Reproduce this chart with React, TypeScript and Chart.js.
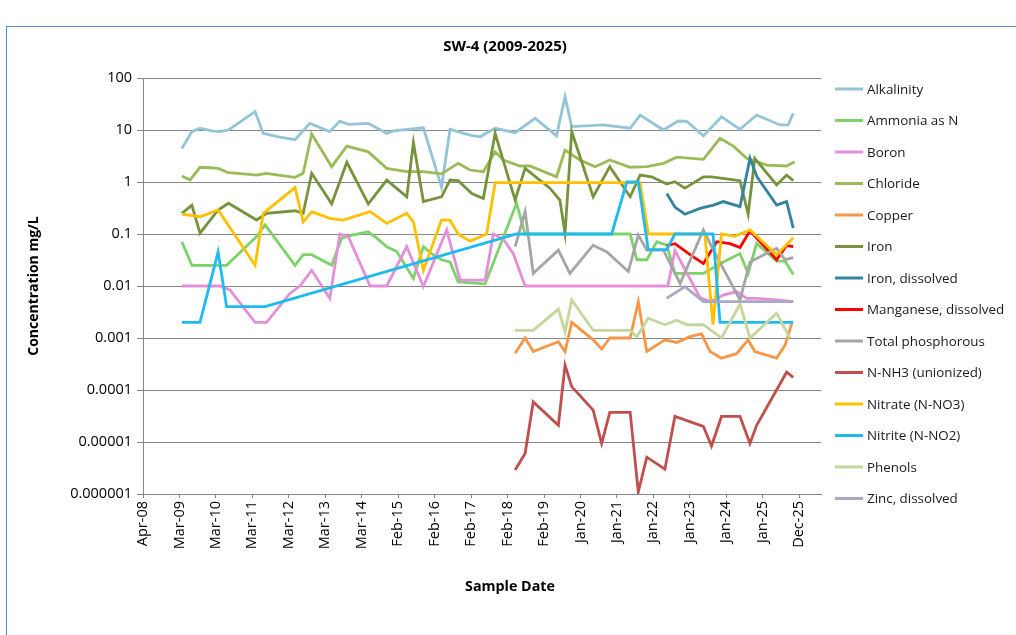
import React, { useEffect, useRef } from "react";
import { Chart, registerables } from "chart.js";

Chart.register(...registerables);

// ---- Text ----
const TITLE = "SW-4 (2009-2025)";
const Y_TITLE = "Concentration mg/L";
const X_TITLE = "Sample Date";

// ---- Axis ticks ----
const Y_TICKS = [0.000001, 0.00001, 0.0001, 0.001, 0.01, 0.1, 1, 10, 100];
const Y_TICK_LABELS = ["0.000001", "0.00001", "0.0001", "0.001", "0.01", "0.1", "1", "10", "100"];
const X_TICK_LABELS = [
  "Apr-08", "Mar-09", "Mar-10", "Mar-11", "Mar-12", "Mar-13", "Mar-14", "Feb-15", "Feb-16",
  "Feb-17", "Feb-18", "Feb-19", "Jan-20", "Jan-21", "Jan-22", "Jan-23", "Jan-24", "Jan-25", "Dec-25",
];
// axis starts 1 Apr 2008 (decimal year), major unit 360 days
const X_START = 2008.249;
const X_STEP = 360 / 365.25;
const X_END = 2026.58;

// ---- Series (sample date as decimal year, concentration mg/L) ----
const alkalinityDates = [2009.30, 2009.57, 2009.79, 2010.11, 2010.33, 2010.56, 2011.28, 2011.50, 2011.91, 2012.36, 2012.76, 2013.30, 2013.57, 2013.80, 2014.34, 2014.84, 2015.02, 2015.83, 2016.32, 2016.55, 2017.09, 2017.36, 2017.77, 2018.31, 2018.85, 2019.43, 2019.66, 2019.84, 2020.69, 2021.42, 2021.69, 2022.32, 2022.72, 2022.95, 2023.40, 2023.89, 2024.39, 2024.84, 2025.47, 2025.69, 2025.83];
const alkalinityValues = [4.4, 9.3, 10.8, 9.6, 9.3, 10, 22.5, 8.6, 7.4, 6.5, 13.4, 9.3, 14.8, 12.8, 13.4, 8.6, 9.6, 11, 0.8, 10.3, 8.0, 7.4, 10.8, 8.9, 16.8, 7.7, 43.7, 11.6, 12.5, 10.8, 19.4, 10, 14.9, 14.7, 7.7, 18, 10.3, 19.4, 12.5, 12.5, 20.9];

const ammoniaDates = [2009.30, 2009.57, 2009.79, 2010.51, 2011.32, 2011.55, 2012.36, 2012.58, 2012.81, 2013.35, 2013.62, 2013.93, 2014.34, 2014.57, 2014.84, 2015.11, 2015.56, 2015.83, 2016.05, 2016.32, 2016.55, 2016.77, 2017.50, 2018.35, 2018.58, 2020.87, 2021.42, 2021.60, 2021.87, 2022.14, 2022.41, 2022.63, 2023.40, 2023.94, 2024.39, 2024.61, 2024.84, 2025.38, 2025.61, 2025.83];
const ammoniaValues = [0.071, 0.025, 0.025, 0.025, 0.089, 0.15, 0.025, 0.04, 0.04, 0.025, 0.083, 0.096, 0.11, 0.083, 0.057, 0.046, 0.014, 0.057, 0.042, 0.032, 0.029, 0.012, 0.011, 0.39, 0.1, 0.1, 0.1, 0.032, 0.032, 0.071, 0.061, 0.0175, 0.0175, 0.029, 0.042, 0.0175, 0.066, 0.03, 0.03, 0.0167];

const boronDates = [2009.30, 2009.79, 2010.33, 2010.60, 2011.28, 2011.59, 2012.22, 2012.49, 2012.81, 2013.30, 2013.57, 2013.80, 2014.39, 2014.84, 2015.38, 2015.83, 2016.46, 2016.82, 2017.50, 2017.72, 2017.99, 2018.26, 2018.58, 2022.44, 2022.63, 2023.31, 2023.58, 2023.94, 2024.30, 2024.57, 2024.84, 2025.38, 2025.83];
const boronValues = [0.01, 0.01, 0.01, 0.0084, 0.002, 0.002, 0.0072, 0.01, 0.02, 0.0058, 0.1, 0.089, 0.01, 0.01, 0.057, 0.0097, 0.12, 0.013, 0.013, 0.1, 0.08, 0.042, 0.01, 0.01, 0.048, 0.006, 0.005, 0.0067, 0.0078, 0.0058, 0.0058, 0.0054, 0.005];

const chlorideDates = [2009.30, 2009.52, 2009.79, 2010.06, 2010.28, 2010.56, 2010.96, 2011.32, 2011.59, 2011.91, 2012.36, 2012.58, 2012.81, 2013.35, 2013.76, 2014.34, 2014.84, 2015.38, 2015.83, 2016.32, 2016.77, 2017.09, 2017.45, 2017.77, 2017.99, 2018.44, 2018.71, 2019.43, 2019.66, 2020.06, 2020.47, 2020.87, 2021.42, 2021.87, 2022.32, 2022.68, 2023.40, 2023.85, 2024.21, 2024.57, 2025.11, 2025.65, 2025.87];
const chlorideValues = [1.3, 1.09, 1.92, 1.88, 1.83, 1.51, 1.43, 1.36, 1.47, 1.36, 1.23, 1.47, 8.4, 1.97, 4.9, 3.8, 1.83, 1.58, 1.58, 1.43, 2.29, 1.7, 1.58, 3.8, 2.65, 2.03, 2.03, 1.26, 4.1, 2.65, 1.97, 2.65, 1.92, 1.97, 2.29, 3.0, 2.73, 6.9, 4.9, 2.85, 2.12, 2.03, 2.45];

const copperDates = [2018.31, 2018.58, 2018.80, 2019.48, 2019.66, 2019.84, 2020.42, 2020.65, 2020.87, 2021.42, 2021.64, 2021.87, 2022.36, 2022.68, 2023.04, 2023.35, 2023.58, 2023.89, 2024.30, 2024.61, 2024.79, 2025.38, 2025.61, 2025.79];
const copperValues = [0.00051, 0.001, 0.00055, 0.00085, 0.00055, 0.002, 0.00092, 0.00061, 0.001, 0.001, 0.005, 0.00055, 0.00092, 0.00082, 0.00106, 0.0012, 0.00055, 0.00041, 0.0005, 0.00092, 0.00055, 0.00041, 0.00073, 0.0019];

const ironDates = [2009.30, 2009.57, 2009.79, 2010.28, 2010.56, 2011.32, 2011.59, 2012.36, 2012.58, 2012.81, 2013.35, 2013.76, 2014.34, 2014.84, 2015.38, 2015.56, 2015.83, 2016.32, 2016.55, 2016.77, 2017.14, 2017.45, 2017.77, 2018.31, 2018.58, 2019.25, 2019.52, 2019.66, 2019.84, 2020.42, 2020.87, 2021.42, 2021.69, 2022.00, 2022.41, 2022.63, 2022.90, 2023.40, 2023.62, 2024.39, 2024.61, 2024.79, 2025.38, 2025.65, 2025.83];
const ironValues = [0.25, 0.36, 0.104, 0.29, 0.39, 0.186, 0.25, 0.28, 0.25, 1.47, 0.38, 2.39, 0.38, 1.09, 0.52, 5.7, 0.42, 0.52, 1.09, 1.06, 0.6, 0.48, 8.6, 0.45, 1.83, 0.76, 0.45, 0.103, 9.3, 0.52, 1.97, 0.52, 1.36, 1.26, 0.91, 1.01, 0.76, 1.26, 1.26, 1.06, 0.24, 2.85, 0.88, 1.36, 1.06];

const ironDissolvedDates = [2022.41, 2022.63, 2022.90, 2023.31, 2023.67, 2023.94, 2024.39, 2024.66, 2024.85, 2025.38, 2025.65, 2025.83];
const ironDissolvedValues = [0.6, 0.33, 0.24, 0.31, 0.36, 0.42, 0.335, 2.85, 1.26, 0.36, 0.42, 0.13];

const manganeseDates = [2022.41, 2022.63, 2023.04, 2023.40, 2023.76, 2024.12, 2024.39, 2024.66, 2025.38, 2025.65, 2025.83];
const manganeseValues = [0.06, 0.065, 0.04, 0.027, 0.071, 0.065, 0.055, 0.115, 0.032, 0.06, 0.057];

const phosphorusDates = [2018.31, 2018.58, 2018.80, 2019.48, 2019.79, 2020.42, 2020.79, 2021.37, 2021.64, 2021.87, 2022.32, 2022.77, 2023.40, 2023.67, 2024.39, 2024.66, 2025.38, 2025.61, 2025.83];
const phosphorusValues = [0.057, 0.27, 0.0175, 0.049, 0.0175, 0.061, 0.045, 0.019, 0.096, 0.049, 0.049, 0.0112, 0.12, 0.049, 0.0054, 0.029, 0.053, 0.032, 0.035];

const nh3Dates = [2018.31, 2018.58, 2018.80, 2019.48, 2019.66, 2019.84, 2020.42, 2020.65, 2020.87, 2021.42, 2021.64, 2021.87, 2022.36, 2022.63, 2023.40, 2023.62, 2023.89, 2024.39, 2024.66, 2024.84, 2025.65, 2025.83];
const nh3Values = [0.0000029, 0.000006, 0.000059, 0.000021, 0.0003, 0.000116, 0.000041, 0.0000094, 0.000037, 0.000037, 0.0000011, 0.0000051, 0.000003, 0.000031, 0.00002, 0.0000084, 0.000031, 0.000031, 0.0000094, 0.000021, 0.00022, 0.000175];

const nitrateDates = [2009.30, 2009.79, 2010.28, 2011.28, 2011.50, 2012.36, 2012.58, 2012.81, 2013.30, 2013.66, 2014.39, 2014.84, 2015.38, 2015.56, 2015.83, 2016.32, 2016.55, 2016.77, 2017.09, 2017.54, 2017.77, 2021.69, 2021.91, 2022.59, 2023.44, 2023.66, 2023.89, 2024.25, 2024.66, 2025.01, 2025.38, 2025.83];
const nitrateValues = [0.24, 0.215, 0.29, 0.025, 0.25, 0.78, 0.17, 0.27, 0.2, 0.185, 0.27, 0.16, 0.25, 0.17, 0.02, 0.185, 0.185, 0.1, 0.073, 0.1, 0.97, 0.97, 0.1, 0.1, 0.1, 0.0018, 0.1, 0.09, 0.12, 0.07, 0.04, 0.085];

const nitriteDates = [2009.30, 2009.79, 2010.28, 2010.51, 2011.55, 2018.35, 2020.92, 2021.33, 2021.64, 2021.91, 2022.41, 2022.63, 2023.66, 2023.85, 2025.83];
const nitriteValues = [0.002, 0.002, 0.045, 0.004, 0.004, 0.1, 0.1, 1, 1, 0.05, 0.05, 0.1, 0.1, 0.002, 0.002];

const phenolsDates = [2018.31, 2018.80, 2019.48, 2019.66, 2019.84, 2020.42, 2021.42, 2021.60, 2021.91, 2022.36, 2022.68, 2022.95, 2023.40, 2023.89, 2024.39, 2024.66, 2025.38, 2025.74];
const phenolsValues = [0.0014, 0.0014, 0.0036, 0.0013, 0.0054, 0.0014, 0.0014, 0.00106, 0.0024, 0.0018, 0.0022, 0.0018, 0.0018, 0.001, 0.0045, 0.001, 0.003, 0.001];

const zincDates = [2022.41, 2022.90, 2023.40, 2025.83];
const zincValues = [0.0058, 0.0097, 0.005, 0.005];

const SERIES_NAMES = [
  "Alkalinity", "Ammonia as N", "Boron", "Chloride", "Copper", "Iron", "Iron, dissolved",
  "Manganese, dissolved", "Total phosphorous", "N-NH3 (unionized)", "Nitrate (N-NO3)",
  "Nitrite (N-NO2)", "Phenols", "Zinc, dissolved",
];
const SERIES_COLORS = [
  "#93C4D8", "#7DD36A", "#E48FD9", "#9BBB59", "#F79646", "#77933C", "#31859C",
  "#FF0000", "#A5A5A5", "#C0504D", "#FFC000", "#1FBBEF", "#C3D69B", "#ABA7C6",
];
const SERIES_DATES = [alkalinityDates, ammoniaDates, boronDates, chlorideDates, copperDates, ironDates, ironDissolvedDates, manganeseDates, phosphorusDates, nh3Dates, nitrateDates, nitriteDates, phenolsDates, zincDates];
const SERIES_VALUES = [alkalinityValues, ammoniaValues, boronValues, chlorideValues, copperValues, ironValues, ironDissolvedValues, manganeseValues, phosphorusValues, nh3Values, nitrateValues, nitriteValues, phenolsValues, zincValues];

const FONT = "'Open Sans', 'DejaVu Sans', sans-serif";

const labelsPlugin = {
  id: "labels",
  afterDraw(chart: any) {
    const { ctx, chartArea } = chart;
    ctx.save();
    ctx.fillStyle = "#000";
    ctx.textBaseline = "middle";
    ctx.textAlign = "center";
    // chart title
    ctx.font = `bold 15px ${FONT}`;
    ctx.fillText(TITLE, 505, 47);
    // x-axis title
    ctx.font = `bold 14.3px ${FONT}`;
    ctx.fillText(X_TITLE, 510, 587);
    // y-axis title
    ctx.save();
    ctx.translate(34, 286);
    ctx.rotate(-Math.PI / 2);
    ctx.font = `bold 14px ${FONT}`;
    ctx.fillText(Y_TITLE, 0, 0);
    ctx.restore();

    // legend
    const x0 = chartArea.right + 14;
    const y0 = 89;
    const rowH = 31.5;
    ctx.font = `13.4px ${FONT}`;
    ctx.textAlign = "left";
    chart.data.datasets.forEach((ds: any, i: number) => {
      const y = y0 + i * rowH;
      ctx.strokeStyle = ds.borderColor;
      ctx.lineWidth = 3;
      ctx.beginPath();
      ctx.moveTo(x0, y);
      ctx.lineTo(x0 + 28, y);
      ctx.stroke();
      ctx.fillStyle = "#1a1a1a";
      ctx.fillText(ds.label, x0 + 32, y + 1);
    });
    ctx.restore();
  },
};

export default function App() {
  const canvasRef = useRef<HTMLCanvasElement | null>(null);

  useEffect(() => {
    if (!canvasRef.current) return;
    const datasets = SERIES_NAMES.map((name, i) => ({
      label: name,
      data: SERIES_DATES[i].map((d, j) => ({ x: d, y: SERIES_VALUES[i][j] })),
      borderColor: SERIES_COLORS[i],
      backgroundColor: SERIES_COLORS[i],
      borderWidth: 2.8,
      pointRadius: 0,
      tension: 0,
      fill: false,
      order: SERIES_NAMES.length - i,
    }));

    const chart = new Chart(canvasRef.current, {
      type: "line",
      data: { datasets },
      plugins: [labelsPlugin],
      options: {
        animation: false,
        responsive: false,
        maintainAspectRatio: false,
        layout: { padding: { left: 0, right: 195, top: 78, bottom: 0 } },
        plugins: {
          legend: { display: false },
          tooltip: { enabled: false },
          title: { display: false },
        },
        scales: {
          x: {
            type: "linear",
            min: X_START,
            max: X_END,
            afterFit: (s: any) => { s.height = 141; },
            afterBuildTicks: (s: any) => {
              s.ticks = X_TICK_LABELS.map((_, i) => ({ value: X_START + i * X_STEP }));
            },
            ticks: {
              autoSkip: false,
              minRotation: 90,
              maxRotation: 90,
              padding: 3,
              color: "#000",
              font: { family: FONT, size: 14.5 },
              callback: (_v: any, i: number) => X_TICK_LABELS[i],
            },
            grid: { drawOnChartArea: false, drawTicks: true, tickLength: 4, color: "#868686" },
            border: { display: true, color: "#868686", width: 1 },
            title: { display: false },
          },
          y: {
            type: "logarithmic",
            min: 0.000001,
            max: 100,
            afterFit: (s: any) => { s.width = 143; },
            afterBuildTicks: (s: any) => {
              s.ticks = Y_TICKS.map((v) => ({ value: v }));
            },
            ticks: {
              autoSkip: false,
              padding: 5,
              color: "#000",
              font: { family: FONT, size: 14.5 },
              callback: (v: any) => {
                const k = Y_TICKS.findIndex((t) => Math.abs(Math.log10(t) - Math.log10(Number(v))) < 1e-6);
                return k >= 0 ? Y_TICK_LABELS[k] : "";
              },
            },
            grid: { color: "#868686", lineWidth: 1, drawTicks: true, tickLength: 6 },
            border: { display: true, color: "#868686", width: 1 },
            title: { display: false },
          },
        },
      } as any,
    });
    return () => chart.destroy();
  }, []);

  return (
    <div style={{ position: "fixed", left: 0, top: 0, width: 1016, height: 635, background: "#fff", overflow: "hidden" }}>
      <div
        style={{
          position: "absolute",
          left: 6,
          top: 26,
          width: 1100,
          height: 700,
          borderLeft: "1.5px solid #5B8AD0",
          borderTop: "1.5px solid #5B8AD0",
        }}
      />
      <canvas
        ref={canvasRef}
        width={1016}
        height={635}
        style={{ position: "absolute", left: 0, top: 0, width: 1016, height: 635 }}
      />
    </div>
  );
}
